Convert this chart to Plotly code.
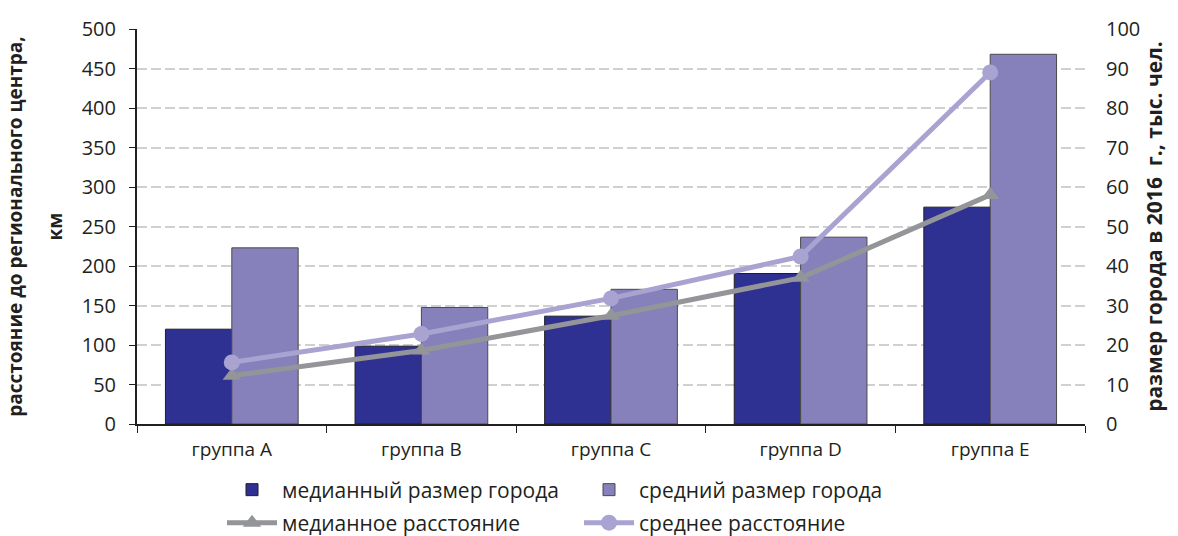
import plotly.graph_objects as go

categories = ["группа A", "группа B", "группа C", "группа D", "группа E"]
median_size = [24.0, 19.7, 27.3, 38.1, 54.9]
mean_size = [44.6, 29.5, 34.1, 47.3, 93.6]
median_dist = [61, 93, 137, 185, 290]
mean_dist = [78, 114, 159, 212, 445]

size_ticks = list(range(0, 101, 10))
dist_ticks = list(range(0, 501, 50))

FONT = "Open Sans"
TXT = "#231F20"

fig = go.Figure()
fig.add_trace(go.Bar(
    x=categories, y=median_size, name="медианный размер города",
    marker=dict(color="#2E3192", line=dict(color="#231F20", width=1)),
    yaxis="y", legend="legend"))
fig.add_trace(go.Bar(
    x=categories, y=mean_size, name="средний размер города",
    marker=dict(color="#8681BA", line=dict(color="#4A4A4A", width=1)),
    yaxis="y", legend="legend"))
fig.add_trace(go.Scatter(
    x=categories, y=median_dist, name="медианное расстояние",
    mode="lines+markers",
    line=dict(color="#939598", width=5),
    marker=dict(symbol="triangle-up", size=16, color="#939598"),
    yaxis="y2", legend="legend2"))
fig.add_trace(go.Scatter(
    x=categories, y=mean_dist, name="среднее расстояние",
    mode="lines+markers",
    line=dict(color="#A9A3D2", width=5),
    marker=dict(symbol="circle", size=16, color="#A9A3D2"),
    yaxis="y2", legend="legend2"))

legend_common = dict(
    orientation="h", xref="container", yref="container",
    xanchor="left", yanchor="middle",
    entrywidth=292, entrywidthmode="pixels", itemwidth=50,
    font=dict(size=21, color=TXT), bgcolor="rgba(0,0,0,0)")

fig.update_layout(
    width=1178, height=536,
    margin=dict(l=137, r=93, t=29, b=112, autoexpand=False),
    paper_bgcolor="white", plot_bgcolor="white",
    font=dict(family=FONT, size=18, color=TXT),
    barmode="group", bargap=0.3, bargroupgap=0,
    xaxis=dict(
        automargin=False,
        showline=True, linecolor=TXT, linewidth=2,
        ticks="outside", tickson="boundaries", ticklen=7, tickcolor=TXT, tickwidth=1,
        ticklabelstandoff=7,
        tickfont=dict(size=19, color=TXT), showgrid=False),
    yaxis=dict(
        automargin=False,
        side="right", range=[0, 100], tickvals=size_ticks,
        showgrid=True, gridcolor="#D0D0D0", gridwidth=2, griddash="10px,4px",
        zeroline=False, showline=False, ticks="",
        ticklabelstandoff=20,
        tickfont=dict(size=20, color=TXT),
        title=dict(text="размер города в 2016  г., тыс. чел.",
                   font=dict(size=21, color=TXT, weight="bold"), standoff=3)),
    yaxis2=dict(
        automargin=False,
        overlaying="y", side="left", range=[0, 500], tickvals=dist_ticks,
        showgrid=False, zeroline=False,
        showline=True, linecolor=TXT, linewidth=2,
        ticks="outside", ticklen=6, tickcolor=TXT,
        ticklabelstandoff=9,
        tickfont=dict(size=20, color=TXT),
        title=dict(text="расстояние до регионального центра,",
                   font=dict(size=19, color=TXT, weight="bold"), standoff=54)),
    annotations=[dict(
        text="км", textangle=-90, xref="paper", yref="paper",
        x=(54 - 137) / 948, y=0.5, xanchor="center", yanchor="middle",
        showarrow=False, font=dict(size=19, color=TXT, weight="bold"))],
    legend=dict(x=222 / 1178, y=(536 - 490) / 536, **legend_common),
    legend2=dict(x=222 / 1178, y=(536 - 523) / 536, **legend_common),
)

fig.write_html("out.html", config={"displayModeBar": False},
               post_script="document.body.style.margin='0';document.body.style.overflow='hidden';")
